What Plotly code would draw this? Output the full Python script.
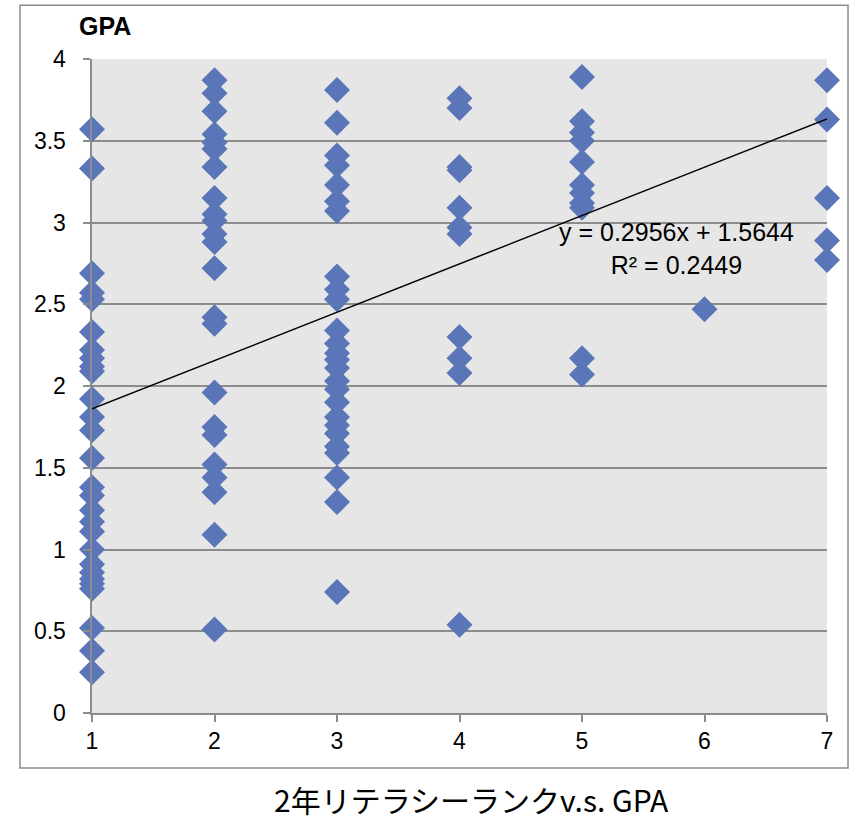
import plotly.graph_objects as go

# Literacy rank (x) and GPA (y) for each student, grouped by rank
rank1 = [3.57, 3.33, 2.69, 2.57, 2.53, 2.33, 2.22, 2.17, 2.12, 2.09, 1.92, 1.81,
         1.73, 1.56, 1.38, 1.33, 1.24, 1.17, 1.11, 1.00, 0.91, 0.86, 0.82, 0.79,
         0.76, 0.52, 0.38, 0.25]
rank2 = [3.87, 3.79, 3.68, 3.54, 3.49, 3.45, 3.34, 3.15, 3.05, 3.01, 2.93, 2.88,
         2.72, 2.42, 2.38, 1.96, 1.75, 1.70, 1.52, 1.44, 1.35, 1.09, 0.51]
rank3 = [3.81, 3.61, 3.41, 3.35, 3.23, 3.13, 3.07, 2.67, 2.59, 2.53, 2.34, 2.26,
         2.20, 2.16, 2.11, 2.03, 1.98, 1.90, 1.81, 1.76, 1.71, 1.63, 1.59, 1.44,
         1.29, 0.74]
rank4 = [3.76, 3.70, 3.34, 3.32, 3.09, 2.97, 2.93, 2.30, 2.17, 2.08, 0.54]
rank5 = [3.89, 3.62, 3.55, 3.50, 3.37, 3.23, 3.18, 3.12, 3.09, 2.17, 2.07]
rank6 = [2.47]
rank7 = [3.87, 3.63, 3.15, 2.89, 2.77]

groups = {1: rank1, 2: rank2, 3: rank3, 4: rank4, 5: rank5, 6: rank6, 7: rank7}
xs = [r for r, vals in groups.items() for _ in vals]
ys = [v for vals in groups.values() for v in vals]

# Linear trend line coefficients
slope, intercept, r2 = 0.2956, 1.5644, 0.2449
trend_x = [1, 7]
trend_y = [slope * x + intercept for x in trend_x]

x_ticks = [1, 2, 3, 4, 5, 6, 7]
y_ticks = [0, 0.5, 1, 1.5, 2, 2.5, 3, 3.5, 4]

fig = go.Figure()
fig.add_trace(go.Scatter(
    x=xs, y=ys, mode="markers",
    marker=dict(symbol="diamond", size=20, color="#5b76b8", line=dict(width=0)),
    cliponaxis=False, showlegend=False, hoverinfo="x+y",
))
fig.add_trace(go.Scatter(
    x=trend_x, y=trend_y, mode="lines",
    line=dict(color="black", width=1.5), showlegend=False, hoverinfo="skip",
))

font_main = "Liberation Sans, Arial, sans-serif"
pad = "\u00a0\u00a0"

fig.update_layout(
    width=860, height=821,
    margin=dict(l=92, r=33, t=59, b=108),
    paper_bgcolor="white",
    plot_bgcolor="#e6e6e6",
    font=dict(family=font_main, size=23, color="black"),
    xaxis=dict(
        range=[1, 7], tickvals=x_ticks, ticktext=[str(t) for t in x_ticks],
        showgrid=False, zeroline=False,
        showline=True, linecolor="#8c8c8c", linewidth=1.5,
        ticks="outside", ticklen=7, tickcolor="#8c8c8c", tickwidth=1.5,
        tickfont=dict(size=23), fixedrange=True,
    ),
    yaxis=dict(
        range=[0, 4], tickvals=y_ticks, ticktext=[f"{t:g}{pad}" for t in y_ticks],
        showgrid=True, gridcolor="#8c8c8c", gridwidth=1.5, zeroline=False,
        showline=True, linecolor="#8c8c8c", linewidth=1.5,
        ticks="outside", ticklen=7, tickcolor="#8c8c8c", tickwidth=1.5,
        tickfont=dict(size=23), fixedrange=True,
    ),
    shapes=[dict(
        type="rect", xref="paper", yref="paper",
        x0=-0.098, x1=1.0286, y0=-0.0841, y1=1.082,
        line=dict(color="#8c8c8c", width=1.5), fillcolor="rgba(0,0,0,0)",
        layer="below",
    )],
    annotations=[
        dict(text="<b>GPA</b>", xref="paper", yref="paper",
             x=(105 - 92) / 735, y=(713 - 26) / 654, xanchor="center", yanchor="middle",
             showarrow=False, font=dict(size=25, family=font_main)),
        dict(text=f"y = {slope}x + {intercept}<br>R² = {r2}",
             x=5.77, y=2.84, xanchor="center", yanchor="middle", align="center",
             showarrow=False, font=dict(size=25, family=font_main)),
        dict(text="2年リテラシーランクv.s. GPA", xref="paper", yref="paper",
             x=(471 - 92) / 735, y=(713 - 799) / 654, xanchor="center", yanchor="middle",
             showarrow=False,
             font=dict(size=30, family="Noto Sans CJK JP, sans-serif")),
    ],
)

fig.write_html("out.html")
